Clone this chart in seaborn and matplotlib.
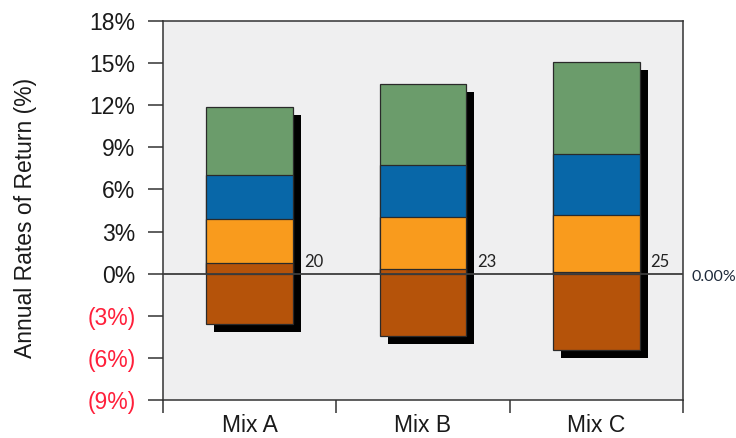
import matplotlib
matplotlib.use("Agg")
import matplotlib.pyplot as plt
import matplotlib.transforms as mtransforms
import pandas as pd
import seaborn as sns

# ---- data ----
mixes = ["Mix A", "Mix B", "Mix C"]
brown_low = [-3.54, -4.45, -5.39]
brown_high = [0.77, 0.37, 0.13]
orange_high = [3.88, 4.07, 4.16]
blue_high = [7.00, 7.77, 8.52]
green_high = [11.84, 13.48, 15.04]
bar_labels = ["20", "23", "25"]
ytick_values = [-9, -6, -3, 0, 3, 6, 9, 12, 15, 18]
ytick_labels = ["(9%)", "(6%)", "(3%)", "0%", "3%", "6%", "9%", "12%", "15%", "18%"]
zero_label = "0.00%"
y_title = "Annual Rates of Return (%)"

df = pd.DataFrame({
    "mix": mixes,
    "brown_low": brown_low,
    "brown_high": brown_high,
    "orange_high": orange_high,
    "blue_high": blue_high,
    "green_high": green_high,
})

sns.set_theme(style="ticks")
plt.rcParams["font.family"] = ["Liberation Sans", "DejaVu Sans"]

DPI = 100
fig = plt.figure(figsize=(7.36, 4.38), dpi=DPI)
fig.patch.set_facecolor("white")
ax = fig.add_axes([163 / 736, 1 - 400.3 / 438, 520 / 736, 379.6 / 438])
ax.set_facecolor("#efeff0")

# ---- shadows ----
n0 = len(ax.patches)
for col in ["green_high", "brown_low"]:
    sns.barplot(data=df, x="mix", y=col, color="black", saturation=1,
                width=0.5, errorbar=None, linewidth=0, ax=ax, zorder=1)
shadow = mtransforms.ScaledTranslation(8 / DPI, -8 / DPI, fig.dpi_scale_trans)
for p in ax.patches[n0:]:
    p.set_transform(ax.transData + shadow)

# ---- stacked segments (overlaid, tallest first) ----
segments = [
    ("green_high", "#6b9c6b"),
    ("blue_high", "#0867a8"),
    ("orange_high", "#f99b1d"),
    ("brown_high", "#b5530a"),
    ("brown_low", "#b5530a"),
]
for col, colr in segments:
    sns.barplot(data=df, x="mix", y=col, color=colr, saturation=1,
                width=0.5, errorbar=None, edgecolor="#2a2a2a", linewidth=0.9,
                ax=ax, zorder=2)

ax.axhline(0, color="#3c3c3c", lw=1.3, zorder=3)

# ---- axes ----
ax.set_xlim(-0.5, 2.5)
ax.set_ylim(-9, 18)
ax.set_xlabel("")
ax.set_ylabel(y_title, fontsize=16.5, color="#1a1a1a")
ax.yaxis.set_label_coords(-0.2423, 0.4816)

ax.set_yticks(ytick_values, ytick_labels)
for v, t in zip(ytick_values, ax.get_yticklabels()):
    t.set_color("#ff1f3a" if v < 0 else "#1a1a1a")
ax.tick_params(axis="y", direction="out", length=10.8, width=1.1,
               color="#333333", pad=9, labelsize=16.5, left=True)

ax.set_xticks(range(len(mixes)), mixes)
ax.set_xticks([-0.5, 0.5, 1.5, 2.5], minor=True)
ax.tick_params(axis="x", which="major", length=0, pad=10, labelsize=16.5,
               labelcolor="#1a1a1a", bottom=True)
ax.tick_params(axis="x", which="minor", direction="out", length=9.4,
               width=1.1, color="#333333", bottom=True)

for s in ax.spines.values():
    s.set_visible(True)
    s.set_color("#333333")
    s.set_linewidth(1.1)

# ---- annotations ----
for i, lbl in enumerate(bar_labels):
    ax.text(i + 0.312, 0.48, lbl, fontfamily=["Lato", "DejaVu Sans"],
            fontsize=12, ha="left", va="baseline", color="#222222", zorder=4)

ax.text(1.017, -0.51, zero_label, transform=ax.get_yaxis_transform(),
        fontfamily=["Lato", "DejaVu Sans"], fontsize=11.5, ha="left",
        va="baseline", color="#1e2a3a", clip_on=False)

fig.savefig("out.png", dpi=DPI)
